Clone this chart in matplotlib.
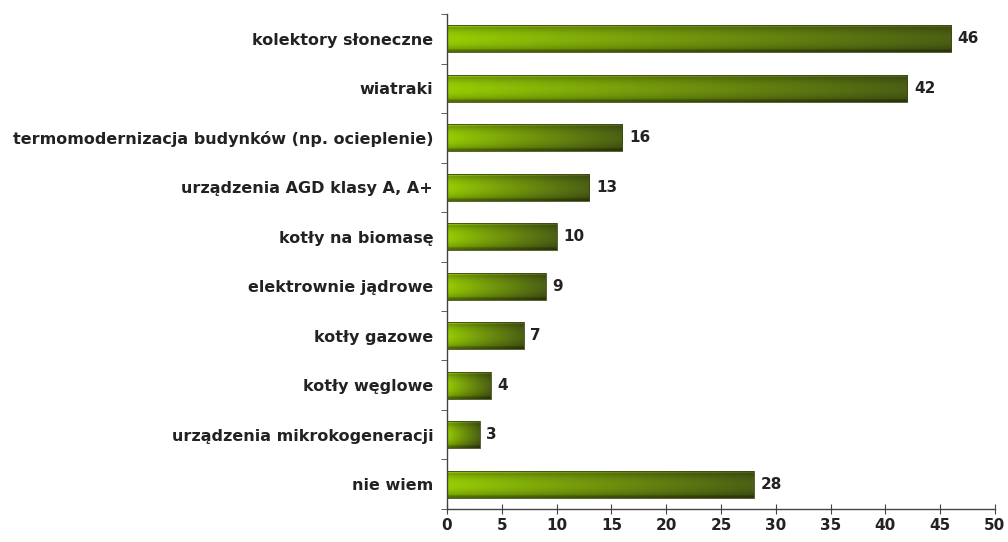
import matplotlib
matplotlib.use("Agg")
import matplotlib.pyplot as plt
import numpy as np

categories = ["kolektory słoneczne", "wiatraki",
              "termomodernizacja budynków (np. ocieplenie)",
              "urządzenia AGD klasy A, A+", "kotły na biomasę",
              "elektrownie jądrowe", "kotły gazowe", "kotły węglowe",
              "urządzenia mikrokogeneracji", "nie wiem"]
values = [46, 42, 16, 13, 10, 9, 7, 4, 3, 28]
xticks = [0, 5, 10, 15, 20, 25, 30, 35, 40, 45, 50]

plt.rcParams['font.family'] = ['DejaVu Sans']

fig = plt.figure(figsize=(10.08, 5.42), dpi=100)
ax = fig.add_axes([0.4435, 0.061, 0.5435, 0.913])

n = len(categories)
ypos = np.arange(n)[::-1]
bar_h = 0.54

# gradient colours: bright yellow-green on the left, dark olive on the right
left_c = np.array([0x98, 0xce, 0x04]) / 255
right_c = np.array([0x4c, 0x60, 0x14]) / 255


def bar_image(w=200, h=40):
    t = np.linspace(0, 1, w) ** 0.9
    row = left_c[None, :] * (1 - t[:, None]) + right_c[None, :] * t[:, None]
    v = np.linspace(-1, 1, h)
    shade = 1.0 - 0.35 * np.abs(v) ** 2.2
    shade[v < -0.8] *= 0.8
    img = row[None, :, :] * shade[:, None, None]
    # light rim on the top edge
    img[-3:] = np.clip(img[-3:] * 1.25 + 0.05, 0, 1)
    return np.clip(img, 0, 1)


img = bar_image()
for y, v in zip(ypos, values):
    ax.imshow(img, extent=(0, v, y - bar_h / 2, y + bar_h / 2),
              aspect='auto', origin='lower', interpolation='bilinear',
              zorder=2)
    ax.plot([0, v, v, 0], [y - bar_h / 2, y - bar_h / 2, y + bar_h / 2,
                           y + bar_h / 2],
            color='#3c4a10', lw=0.6, zorder=3)
    ax.text(v + 0.6, y, str(v), va='center', ha='left',
            fontsize=11, fontweight='bold', color='#222222')

ax.set_xlim(0, 50)
ax.set_ylim(-0.5, n - 0.5)
ax.set_xticks(xticks)
ax.set_xticklabels([str(x) for x in xticks], fontsize=11,
                   fontweight='bold', color='#222222')
ax.set_yticks(ypos)
ax.set_yticklabels(categories, fontsize=11.5, fontweight='bold',
                   color='#222222')
ax.set_yticks(np.arange(n + 1) - 0.5, minor=True)
ax.tick_params(axis='y', which='major', length=0, pad=10)
ax.tick_params(axis='y', which='minor', length=4, color='#444444')
ax.tick_params(axis='x', direction='inout', length=7, color='#444444',
               pad=3)

for s in ['top', 'right']:
    ax.spines[s].set_visible(False)
for s in ['left', 'bottom']:
    ax.spines[s].set_color('#444444')
    ax.spines[s].set_linewidth(1.0)

fig.savefig("out.png", dpi=100)
